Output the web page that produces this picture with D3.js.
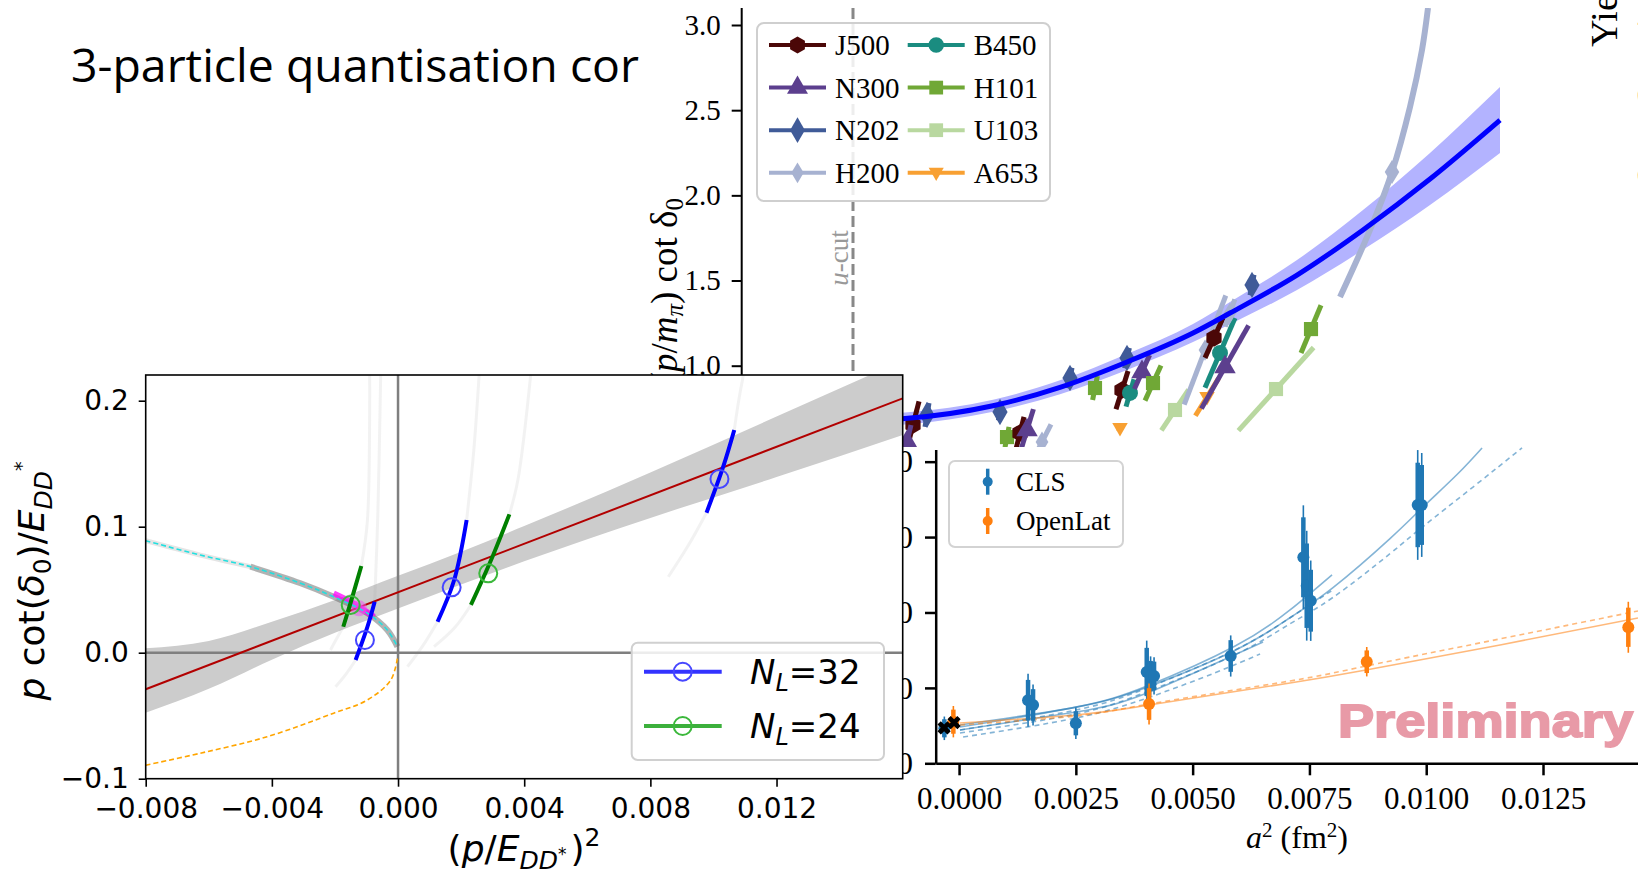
<!DOCTYPE html>
<html>
<head>
<meta charset="utf-8">
<script src="https://cdnjs.cloudflare.com/ajax/libs/d3/7.8.5/d3.min.js"></script>
<style>
	body { margin: 0; background: #fff; }
	svg { display: block; }
</style>
</head>
<body>
<div id="chart"></div>
<script>

// ------------------------------ data ------------------------------//

var titleText = "3-particle quantisation cor";

// top right : (p/m_pi) cot delta_0
var ensembles = ["J500", "N300", "N202", "H200", "B450", "H101", "U103", "A653"];
var ensColor = {
	J500: "#4b0707", B450: "#1a8c80", N300: "#5c3f8e", H101: "#70a836",
	N202: "#405b98", U103: "#b9d8a0", H200: "#a7b2d1", A653: "#f8a032"
};
var ensShape = {
	J500: "hex", B450: "circle", N300: "triUp", H101: "square",
	N202: "diamond", U103: "square", H200: "thinDiamond", A653: "triDown"
};
var yTicksA = [1.0, 1.5, 2.0, 2.5, 3.0];
var uCut = -0.25;

var fitX  = [-0.2, -0.12, 0.1, 0.2675, 0.435, 0.6, 0.6925, 0.86, 1.025, 1.1925, 1.3675];
var fitY  = [0.68, 0.69, 0.765, 0.873, 1.022, 1.192, 1.309, 1.532, 1.797, 2.096, 2.442];
var fitLo = [0.645, 0.655, 0.730, 0.832, 0.975, 1.139, 1.244, 1.444, 1.680, 1.943, 2.248];
var fitHi = [0.715, 0.725, 0.800, 0.914, 1.069, 1.245, 1.374, 1.620, 1.914, 2.249, 2.636];

var ptEns = ["J500","N202","N300","N202","H101","J500","N300","H200","N202","H101","A653","N202","J500",
	"B450","N300","H101","U103","H200","A653","J500","B450","N300","H200","N202","H101","U103"];
var ptX  = [-0.1, -0.065, -0.115, 0.1175, 0.135, 0.1675, 0.185, 0.2225, 0.2925, 0.355, 0.4175, 0.435, 0.4225,
	0.4425, 0.4725, 0.5, 0.555, 0.63, 0.635, 0.6525, 0.6675, 0.68, 0.6925, 0.7475, 0.895, 0.8075];
var ptY  = [0.652, 0.711, 0.552, 0.728, 0.581, 0.605, 0.622, 0.552, 0.928, 0.869, 0.634, 1.045, 0.857,
	0.840, 0.963, 0.898, 0.740, 1.092, 0.816, 1.163, 1.075, 0.992, 1.309, 1.474, 1.215, 0.863];
var ptEx = [0.015, 0.005, 0.01, 0.004, 0.005, 0.01, 0.016, 0.0225, 0.005, 0.006, 0.003, 0.006, 0.015,
	0.01, 0.019, 0.02, 0.034, 0.052, 0.029, 0.0225, 0.0375, 0.059, 0.012, 0.005, 0.025, 0.094];
var ptEy = [0.138, 0.07, 0.1, 0.05, 0.06, 0.094, 0.123, 0.103, 0.06, 0.07, 0.02, 0.06, 0.112,
	0.08, 0.1, 0.103, 0.12, 0.32, 0.11, 0.117, 0.205, 0.244, 0.08, 0.06, 0.14, 0.244];

// the steep H200 curve
var h200X = [0.9675, 1.0425, 1.0975, 1.1425, 1.1725, 1.1875];
var h200Y = [1.403, 1.797, 2.137, 2.519, 2.853, 3.1];
var h200Mark = 2;

// bottom right : continuum extrapolation in a^2
var xTicksB = [0, 0.0025, 0.005, 0.0075, 0.01, 0.0125];
var yTicksB = [1, 2, 3, 4, 5];
var clsX   = [-0.000315, 0.001477, 0.001584, 0.0025, 0.004017, 0.0041, 0.004174, 0.005815, 0.00737, 0.007442, 0.007528, 0.009818, 0.009904];
var clsY   = [1.464, 1.836, 1.773, 1.531, 2.211, 2.158, 2.158, 2.423, 3.732, 3.355, 3.156, 4.426, 4.426];
var clsErr = [0.12, 0.27, 0.21, 0.16, 0.32, 0.2, 0.19, 0.21, 0.53, 0.56, 0.41, 0.56, 0.53];
var olX   = [-0.000122, 0.004067, 0.008727, 0.014326];
var olY   = [1.552, 1.786, 2.347, 2.804];
var olErr = [0.16, 0.21, 0.15, 0.26];
var crossX = [-0.00032, -0.000107];
var crossY = [1.47, 1.54];

var clsFitA = { x: [0.00002, 0.002504, 0.004024, 0.00591, 0.007085, 0.008005, 0.009225, 0.009932, 0.01066, 0.011195],
	y: [1.508, 1.745, 2.010, 2.500, 2.930, 3.330, 3.980, 4.399, 4.830, 5.182], dash: false };
var clsFitB = { x: [0.00002, 0.002504, 0.004024, 0.00591, 0.007085, 0.008005, 0.009225, 0.009932, 0.011002, 0.012051],
	y: [1.402, 1.654, 1.950, 2.440, 2.850, 3.200, 3.780, 4.140, 4.664, 5.182], dash: true };
var clsFitC = { x: [0.00002, 0.002504, 0.004024, 0.00591, 0.007085, 0.007984],
	y: [1.481, 1.745, 2.025, 2.555, 3.033, 3.499], dash: false };
var clsFitD = { x: [0.00002, 0.002504, 0.004024, 0.00591, 0.007085, 0.008005],
	y: [1.442, 1.707, 1.999, 2.503, 2.930, 3.300], dash: true };
var clsFitE = { x: [0.00002, 0.002504, 0.004024, 0.006507],
	y: [1.442, 1.680, 1.932, 2.609], dash: false };
var clsFitF = { x: [0.000086, 0.002504, 0.004088, 0.005479, 0.006443],
	y: [1.349, 1.601, 1.879, 2.200, 2.450], dash: true };
var olFitA = { x: [0.00002, 0.002504, 0.004067, 0.007085, 0.008711, 0.011581, 0.014533],
	y: [1.534, 1.641, 1.773, 2.065, 2.237, 2.569, 2.927], dash: false };
var olFitB = { x: [0.00002, 0.002504, 0.004067, 0.007085, 0.008711, 0.011581, 0.014533],
	y: [1.508, 1.627, 1.786, 2.092, 2.290, 2.650, 3.020], dash: true };

// bottom left : p cot(delta_0)/E vs (p/E)^2
var xTicksC = [-0.008, -0.004, 0, 0.004, 0.008, 0.012];
var yTicksC = [-0.1, 0, 0.1, 0.2];
var bandX  = [-0.008, -0.006, -0.004, -0.002, 0, 0.002, 0.004, 0.008, 0.012, 0.016];
var bandLo = [-0.0476, -0.0287, -0.0055, 0.0158, 0.035, 0.0542, 0.0725, 0.107, 0.1394, 0.1728];
var bandHi = [0.0035, 0.0093, 0.0245, 0.0418, 0.061, 0.0802, 0.1005, 0.143, 0.1874, 0.232];
var redX = [-0.008, 0.016];
var redY = [-0.029, 0.2019];
var cyanX = [-0.008, -0.00627, -0.00468, -0.00309, -0.00204, -0.00097, -0.00034, -0.00002];
var cyanY = [0.0889, 0.0775, 0.0683, 0.0551, 0.0444, 0.0313, 0.018, 0.0048];
var orangeX = [-0.008, -0.00627, -0.00415, -0.00204, -0.00097, -0.00023, -0.00002];
var orangeY = [-0.0893, -0.0798, -0.0667, -0.048, -0.0375, -0.0217, -0.0045];
var magX = [-0.00204, -0.0015, -0.00076];
var magY = [0.0471, 0.0404, 0.0286];
var blobX = -0.00124, blobY = 0.0352;

var n32 = [
	{ x: [-0.001345, -0.00097, -0.00074], y: [-0.0058, 0.0206, 0.0405], cx: -0.00105, cy: 0.0101 },
	{ x: [0.001253, 0.00178, 0.002175], y: [0.0246, 0.0577, 0.1053], cx: 0.0017, cy: 0.0519 },
	{ x: [0.00978, 0.01031, 0.01066], y: [0.1111, 0.1476, 0.1767], cx: 0.01019, cy: 0.1379 }
];
var n24 = [
	{ x: [-0.001736, -0.0015, -0.001164], y: [0.0206, 0.040, 0.0688], cx: -0.0015, cy: 0.0379 },
	{ x: [0.00231, 0.00295, 0.00353], y: [0.0379, 0.0736, 0.1098], cx: 0.00286, cy: 0.063 }
];
// faint continuation of the quantisation curves
var ghosts = [
	{ x: [-0.00198, -0.00165, -0.001345], y: [-0.027, -0.017, -0.0058] },
	{ x: [-0.00074, -0.00064, -0.00055], y: [0.0405, 0.11, 0.22] },
	{ x: [-0.00214, -0.00195, -0.001736], y: [0.0021, 0.011, 0.0206] },
	{ x: [-0.001164, -0.00097, -0.0009], y: [0.0688, 0.105, 0.22] },
	{ x: [0.0003, 0.0008, 0.001253], y: [-0.0111, 0.006, 0.0246] },
	{ x: [0.002175, 0.0024, 0.00258], y: [0.1053, 0.16, 0.224] },
	{ x: [0.00114, 0.0018, 0.00231], y: [0.0048, 0.02, 0.0379] },
	{ x: [0.00353, 0.0038, 0.00422], y: [0.1098, 0.137, 0.224] },
	{ x: [0.00857, 0.0092, 0.00978], y: [0.0603, 0.085, 0.1111] },
	{ x: [0.01066, 0.0108, 0.01095], y: [0.1767, 0.2, 0.2204] }
];

// ------------------------------ drawing ------------------------------//

function init() {

	var w = 1638;
	var h = 872;
	var serif = "'Liberation Serif', 'DejaVu Serif', serif";
	var sans = "'DejaVu Sans', sans-serif";

	var svg = d3.select("#chart").append("svg")
		.attr("width", w)
		.attr("height", h);

	svg.append("rect").attr("width", w).attr("height", h).attr("fill", "#fff");

	// custom marker shapes
	var hexagon = { draw: function(ctx, size) {
		var r = Math.sqrt(size / 2.598);
		for (var i = 0; i < 6; i++) {
			var a = -Math.PI / 2 + i * Math.PI / 3;
			if (i == 0) ctx.moveTo(r * Math.cos(a), r * Math.sin(a));
			else ctx.lineTo(r * Math.cos(a), r * Math.sin(a));
		}
		ctx.closePath();
	}};
	var triDown = { draw: function(ctx, size) {
		var s = Math.sqrt(size * 1.2);
		ctx.moveTo(-s / 2, -s / 3); ctx.lineTo(s / 2, -s / 3); ctx.lineTo(0, s * 0.55); ctx.closePath();
	}};
	var thinDiamond = { draw: function(ctx, size) {
		var r = Math.sqrt(size) * 0.75;
		ctx.moveTo(0, -r); ctx.lineTo(r * 0.6, 0); ctx.lineTo(0, r); ctx.lineTo(-r * 0.6, 0); ctx.closePath();
	}};
	var shapes = {
		hex: hexagon, circle: d3.symbolCircle, triUp: d3.symbolTriangle, square: d3.symbolSquare,
		diamond: d3.symbolDiamond, thinDiamond: thinDiamond, triDown: triDown
	};

	//-------------------------------- title --------------------------------//
	svg.append("text")
		.attr("x", 71).attr("y", 82)
		.attr("font-family", "'Open Sans', sans-serif")
		.attr("font-size", 46)
		.attr("textLength", 568)
		.attr("lengthAdjust", "spacingAndGlyphs")
		.text(titleText);

	//-------------------------------- panel A (top right) --------------------------------//
	var xA = d3.scaleLinear().domain([-0.5, 1.5]).range([753, 1553]);
	var yA = d3.scaleLinear().domain([1, 3]).range([365.7, 25]);

	var gA = svg.append("g");
	svg.append("clipPath").attr("id", "clipA")
		.append("rect").attr("x", 742).attr("y", 8).attr("width", 900).attr("height", 870);

	var plotA = gA.append("g").attr("clip-path", "url(#clipA)");

	// u-cut
	plotA.append("line")
		.attr("x1", xA(uCut)).attr("x2", xA(uCut))
		.attr("y1", yA(3.1)).attr("y2", yA(0.3))
		.attr("stroke", "#888").attr("stroke-width", 3).attr("stroke-dasharray", "11,5");
	gA.append("text")
		.attr("transform", "translate(" + (xA(uCut) - 5) + ",258) rotate(-90)")
		.attr("text-anchor", "middle")
		.attr("font-family", serif).attr("font-size", 27).attr("fill", "#999")
		.html("<tspan font-style='italic'>u</tspan>-cut");

	var idx = d3.range(fitX.length);
	plotA.append("path")
		.datum(idx)
		.attr("fill", "#b3b3ff")
		.attr("d", d3.area()
			.x(function(i) { return xA(fitX[i]); })
			.y0(function(i) { return yA(fitLo[i]); })
			.y1(function(i) { return yA(fitHi[i]); })
			.curve(d3.curveMonotoneX));

	// H200 steep curve
	plotA.append("path")
		.datum(d3.range(h200X.length))
		.attr("fill", "none")
		.attr("stroke", ensColor.H200).attr("stroke-width", 6)
		.attr("d", d3.line()
			.x(function(i) { return xA(h200X[i]); })
			.y(function(i) { return yA(h200Y[i]); })
			.curve(d3.curveCatmullRom));
	plotA.append("path")
		.attr("transform", "translate(" + xA(h200X[h200Mark]) + "," + yA(h200Y[h200Mark]) + ")")
		.attr("fill", ensColor.H200)
		.attr("d", d3.symbol().type(thinDiamond).size(260)());

	// error bars + markers
	var pts = plotA.selectAll("g.pt")
		.data(d3.range(ptX.length))
		.enter().append("g").attr("class", "pt");
	pts.append("line")
		.attr("x1", function(i) { return xA(ptX[i] - ptEx[i]); })
		.attr("y1", function(i) { return yA(ptY[i] - ptEy[i]); })
		.attr("x2", function(i) { return xA(ptX[i] + ptEx[i]); })
		.attr("y2", function(i) { return yA(ptY[i] + ptEy[i]); })
		.attr("stroke", function(i) { return ensColor[ptEns[i]]; })
		.attr("stroke-width", 5);
	pts.append("path")
		.attr("transform", function(i) { return "translate(" + xA(ptX[i]) + "," + yA(ptY[i]) + ")"; })
		.attr("fill", function(i) { return ensColor[ptEns[i]]; })
		.attr("d", function(i) { return d3.symbol().type(shapes[ensShape[ptEns[i]]]).size(200)(); });

	plotA.append("path")
		.datum(idx)
		.attr("fill", "none")
		.attr("stroke", "#0000ff").attr("stroke-width", 5)
		.attr("d", d3.line()
			.x(function(i) { return xA(fitX[i]); })
			.y(function(i) { return yA(fitY[i]); })
			.curve(d3.curveMonotoneX));

	// y axis
	gA.append("line")
		.attr("x1", 741.7).attr("x2", 741.7)
		.attr("y1", yA(3.1)).attr("y2", yA(0.3))
		.attr("stroke", "#000").attr("stroke-width", 2);
	var axA = gA.append("g")
		.attr("transform", "translate(741.7,0)")
		.call(d3.axisLeft(yA).tickValues(yTicksA).tickFormat(d3.format(".1f")).tickSize(10).tickPadding(11));
	axA.select(".domain").remove();
	axA.selectAll("line").attr("stroke-width", 2);
	axA.selectAll("text").attr("font-family", serif).attr("font-size", 29);

	gA.append("text")
		.attr("transform", "translate(677,198) rotate(-90)")
		.attr("text-anchor", "end")
		.attr("font-family", serif).attr("font-size", 37)
		.html("(<tspan font-style='italic'>p</tspan>/<tspan font-style='italic'>m</tspan><tspan font-style='italic' font-size='25' dy='6'>π</tspan><tspan dy='-6'>)</tspan> cot δ<tspan font-size='25' dy='6'>0</tspan>");

	// legend A
	var legA = gA.append("g");
	legA.append("rect")
		.attr("x", 757).attr("y", 23).attr("width", 293).attr("height", 178).attr("rx", 7)
		.attr("fill", "#fff").attr("fill-opacity", 0.85)
		.attr("stroke", "#cfcfcf").attr("stroke-width", 2);
	var legItems = legA.selectAll("g.item")
		.data(ensembles)
		.enter().append("g").attr("class", "item")
		.attr("transform", function(d, i) {
			return "translate(" + (i < 4 ? 769 : 907.7) + "," + (45 + (i % 4) * 42.6) + ")";
		});
	legItems.append("line")
		.attr("x1", 0).attr("x2", 57)
		.attr("stroke", function(d) { return ensColor[d]; })
		.attr("stroke-width", 4);
	legItems.append("path")
		.attr("transform", "translate(28.5,0)")
		.attr("fill", function(d) { return ensColor[d]; })
		.attr("d", function(d) { return d3.symbol().type(shapes[ensShape[d]]).size(190)(); });
	legItems.append("text")
		.attr("x", 66).attr("y", 10)
		.attr("font-family", serif).attr("font-size", 29)
		.text(function(d) { return d; });

	//-------------------------------- panel B (bottom right) --------------------------------//
	var xB = d3.scaleLinear().domain([-0.0005, 0.015]).range([935.7, 1659.8]);
	var yB = d3.scaleLinear().domain([1, 5.16]).range([763.3, 449.6]);

	var gB = svg.append("g");
	gB.append("rect").attr("x", 903).attr("y", 447).attr("width", 740).attr("height", 430).attr("fill", "#fff");

	svg.append("clipPath").attr("id", "clipB")
		.append("rect").attr("x", 936).attr("y", 447).attr("width", 710).attr("height", 317);
	var plotB = gB.append("g").attr("clip-path", "url(#clipB)");

	var fitLine = d3.line()
		.x(function(d) { return xB(d[0]); })
		.y(function(d) { return yB(d[1]); })
		.curve(d3.curveNatural);
	function drawFit(f, col) {
		plotB.append("path")
			.datum(d3.zip(f.x, f.y))
			.attr("fill", "none")
			.attr("stroke", col).attr("stroke-opacity", 0.55).attr("stroke-width", 1.6)
			.attr("stroke-dasharray", f.dash ? "5,4" : null)
			.attr("d", fitLine);
	}
	[clsFitA, clsFitB, clsFitC, clsFitD, clsFitE, clsFitF].forEach(function(f) { drawFit(f, "#1f77b4"); });
	[olFitA, olFitB].forEach(function(f) { drawFit(f, "#ff7f0e"); });

	function drawErr(xs, ys, es, col) {
		var g = plotB.selectAll(null).data(d3.range(xs.length)).enter().append("g");
		g.append("line")
			.attr("x1", function(i) { return xB(xs[i]); }).attr("x2", function(i) { return xB(xs[i]); })
			.attr("y1", function(i) { return yB(ys[i] - es[i] * 1.3); })
			.attr("y2", function(i) { return yB(ys[i] + es[i] * 1.3); })
			.attr("stroke", col).attr("stroke-width", 1.6);
		g.append("line")
			.attr("x1", function(i) { return xB(xs[i]); }).attr("x2", function(i) { return xB(xs[i]); })
			.attr("y1", function(i) { return yB(ys[i] - es[i]); })
			.attr("y2", function(i) { return yB(ys[i] + es[i]); })
			.attr("stroke", col).attr("stroke-width", 4.5);
		g.append("circle")
			.attr("cx", function(i) { return xB(xs[i]); })
			.attr("cy", function(i) { return yB(ys[i]); })
			.attr("r", 6).attr("fill", col);
	}
	drawErr(clsX, clsY, clsErr, "#1f77b4");
	drawErr(olX, olY, olErr, "#ff7f0e");

	plotB.selectAll("path.cross")
		.data(d3.range(crossX.length))
		.enter().append("path").attr("class", "cross")
		.attr("transform", function(i) { return "translate(" + xB(crossX[i]) + "," + yB(crossY[i]) + ") rotate(45)"; })
		.attr("d", d3.symbol().type(d3.symbolCross).size(110)())
		.attr("fill", "#000");

	var axBx = gB.append("g")
		.attr("transform", "translate(0,763.3)")
		.call(d3.axisBottom(xB).tickValues(xTicksB).tickFormat(d3.format(".4f")).tickSize(12).tickPadding(12).tickSizeOuter(0));
	axBx.select(".domain").attr("stroke-width", 2.5);
	axBx.selectAll("line").attr("stroke-width", 2.5);
	axBx.selectAll("text").attr("font-family", serif).attr("font-size", 31);

	var axBy = gB.append("g")
		.attr("transform", "translate(935.7,0)")
		.call(d3.axisLeft(yB).tickValues(yTicksB).tickFormat(d3.format(".1f")).tickSize(10.7).tickPadding(12).tickSizeOuter(0));
	axBy.select(".domain").attr("stroke-width", 2.5);
	axBy.selectAll("line").attr("stroke-width", 2.5);
	axBy.selectAll("text").attr("font-family", serif).attr("font-size", 32);

	gB.append("text")
		.attr("x", 1297).attr("y", 848)
		.attr("text-anchor", "middle")
		.attr("font-family", serif).attr("font-size", 32)
		.html("<tspan font-style='italic'>a</tspan><tspan font-size='21' dy='-11'>2</tspan><tspan dy='11'> (fm</tspan><tspan font-size='21' dy='-11'>2</tspan><tspan dy='11'>)</tspan>");

	// legend B
	var legB = gB.append("g");
	legB.append("rect")
		.attr("x", 949).attr("y", 461).attr("width", 174).attr("height", 86).attr("rx", 6)
		.attr("fill", "#fff").attr("stroke", "#d3d3d3").attr("stroke-width", 2);
	[["CLS", "#1f77b4", 481.7], ["OpenLat", "#ff7f0e", 521]].forEach(function(e) {
		legB.append("line").attr("x1", 987.7).attr("x2", 987.7).attr("y1", e[2] - 13).attr("y2", e[2] + 13)
			.attr("stroke", e[1]).attr("stroke-width", 3.5);
		legB.append("circle").attr("cx", 987.7).attr("cy", e[2]).attr("r", 5).attr("fill", e[1]);
		legB.append("text").attr("x", 1016).attr("y", e[2] + 9)
			.attr("font-family", serif).attr("font-size", 27).text(e[0]);
	});

	gB.append("text")
		.attr("x", 1338).attr("y", 737)
		.attr("font-family", "'Liberation Sans', Arial, sans-serif").attr("font-weight", 900)
		.attr("font-size", 46)
		.attr("textLength", 295).attr("lengthAdjust", "spacingAndGlyphs")
		.attr("fill", "#e89aa7").attr("stroke", "#e89aa7").attr("stroke-width", 1.8)
		.text("Preliminary");

	// fourth panel peeking in at the right edge
	svg.append("text")
		.attr("transform", "translate(1617,47) rotate(-90)")
		.attr("font-family", serif).attr("font-size", 38)
		.text("Yield");
	[[37, "4"], [103, "3"], [183, "2"]].forEach(function(t) {
		svg.append("text")
			.attr("transform", "translate(1662," + t[0] + ") rotate(-90)")
			.attr("font-family", serif).attr("font-size", 36)
			.text(t[1]);
	});

	//-------------------------------- panel C (bottom left) --------------------------------//
	var xC = d3.scaleLinear().domain([-0.008, 0.016]).range([145.7, 902.7]);
	var yC = d3.scaleLinear().domain([-0.1, 0.2204]).range([778.7, 375]);

	var gC = svg.append("g");
	gC.append("rect").attr("x", 0).attr("y", 375).attr("width", 903).attr("height", 500).attr("fill", "#fff");

	svg.append("clipPath").attr("id", "clipC")
		.append("rect").attr("x", 145.7).attr("y", 375).attr("width", 757).attr("height", 403.7);
	var plotC = gC.append("g").attr("clip-path", "url(#clipC)");

	var lineC = d3.line()
		.x(function(d) { return xC(d[0]); })
		.y(function(d) { return yC(d[1]); })
		.curve(d3.curveCatmullRom);

	plotC.append("path")
		.datum(d3.range(bandX.length))
		.attr("fill", "#cccccc")
		.attr("d", d3.area()
			.x(function(i) { return xC(bandX[i]); })
			.y0(function(i) { return yC(bandLo[i]); })
			.y1(function(i) { return yC(bandHi[i]); })
			.curve(d3.curveMonotoneX));

	ghosts.forEach(function(gh) {
		plotC.append("path").datum(d3.zip(gh.x, gh.y))
			.attr("fill", "none").attr("stroke", "#999").attr("stroke-opacity", 0.13).attr("stroke-width", 3)
			.attr("d", lineC);
	});

	plotC.append("line")
		.attr("x1", xC(0)).attr("x2", xC(0)).attr("y1", 375).attr("y2", 778.7)
		.attr("stroke", "#7f7f7f").attr("stroke-width", 2.5);
	plotC.append("line")
		.attr("x1", 145.7).attr("x2", 902.7).attr("y1", yC(0)).attr("y2", yC(0))
		.attr("stroke", "#7f7f7f").attr("stroke-width", 2.5);

	// shadow along the bound-state curve
	plotC.append("path").datum(d3.zip(cyanX.slice(2), cyanY.slice(2)))
		.attr("fill", "none").attr("stroke", "#666").attr("stroke-opacity", 0.5).attr("stroke-width", 6)
		.attr("d", lineC);
	plotC.append("path").datum(d3.zip(cyanX.slice(0, 3), cyanY.slice(0, 3)))
		.attr("fill", "none").attr("stroke", "#999").attr("stroke-opacity", 0.25).attr("stroke-width", 5)
		.attr("d", lineC);

	plotC.append("path").datum(d3.zip(redX, redY))
		.attr("fill", "none").attr("stroke", "#b20000").attr("stroke-width", 2)
		.attr("d", d3.line().x(function(d) { return xC(d[0]); }).y(function(d) { return yC(d[1]); }));

	plotC.append("path").datum(d3.zip(magX, magY))
		.attr("fill", "none").attr("stroke", "#ff00ff").attr("stroke-opacity", 0.75).attr("stroke-width", 6)
		.attr("d", lineC);
	plotC.append("circle")
		.attr("cx", xC(blobX)).attr("cy", yC(blobY)).attr("r", 8)
		.attr("fill", "#ee55ee").attr("fill-opacity", 0.55);

	plotC.append("path").datum(d3.zip(cyanX, cyanY))
		.attr("fill", "none").attr("stroke", "#22e0e0").attr("stroke-width", 1.6).attr("stroke-dasharray", "5,3")
		.attr("d", lineC);
	plotC.append("path").datum(d3.zip(orangeX, orangeY))
		.attr("fill", "none").attr("stroke", "#ffa500").attr("stroke-width", 1.6).attr("stroke-dasharray", "5,3")
		.attr("d", lineC);

	function drawLevels(list, col, mcol) {
		list.forEach(function(s) {
			plotC.append("path").datum(d3.zip(s.x, s.y))
				.attr("fill", "none").attr("stroke", col).attr("stroke-width", 4)
				.attr("d", lineC);
			plotC.append("circle")
				.attr("cx", xC(s.cx)).attr("cy", yC(s.cy)).attr("r", 9)
				.attr("fill", "none").attr("stroke", mcol).attr("stroke-width", 2);
		});
	}
	drawLevels(n24, "#008000", "#3cb83c");
	drawLevels(n32, "#0000ff", "#4646ff");

	gC.append("rect")
		.attr("x", 145.7).attr("y", 375).attr("width", 757).attr("height", 403.7)
		.attr("fill", "none").attr("stroke", "#000").attr("stroke-width", 1.6);

	var axCx = gC.append("g")
		.attr("transform", "translate(0,778.7)")
		.call(d3.axisBottom(xC).tickValues(xTicksC).tickFormat(d3.format(".3f")).tickSize(8).tickPadding(11));
	axCx.select(".domain").remove();
	axCx.selectAll("line").attr("stroke-width", 1.6);
	axCx.selectAll("text").attr("font-family", sans).attr("font-size", 28);

	var axCy = gC.append("g")
		.attr("transform", "translate(145.7,0)")
		.call(d3.axisLeft(yC).tickValues(yTicksC).tickFormat(d3.format(".1f")).tickSize(7).tickPadding(10));
	axCy.select(".domain").remove();
	axCy.selectAll("line").attr("stroke-width", 1.6);
	axCy.selectAll("text").attr("font-family", sans).attr("font-size", 28);

	gC.append("text")
		.attr("transform", "translate(44,581) rotate(-90)")
		.attr("text-anchor", "middle")
		.attr("font-family", sans).attr("font-size", 36)
		.html("<tspan font-style='italic'>p</tspan> cot(<tspan font-style='italic'>δ</tspan><tspan font-size='25' dy='7'>0</tspan><tspan dy='-7'>)/</tspan><tspan font-style='italic'>E</tspan><tspan font-style='italic' font-size='25' dy='8'>DD</tspan><tspan font-size='19' dy='-24'>*</tspan>");

	gC.append("text")
		.attr("x", 524).attr("y", 861)
		.attr("text-anchor", "middle")
		.attr("font-family", sans).attr("font-size", 36)
		.html("(<tspan font-style='italic'>p</tspan>/<tspan font-style='italic'>E</tspan><tspan font-style='italic' font-size='25' dy='8'>DD</tspan><tspan font-size='17' dy='-9'>*</tspan><tspan dx='4' dy='1'>)</tspan><tspan font-size='25' dy='-15'>2</tspan>");

	// legend C
	var legC = gC.append("g");
	legC.append("rect")
		.attr("x", 631.7).attr("y", 642.7).attr("width", 252.3).attr("height", 117.3).attr("rx", 6)
		.attr("fill", "#fff").attr("fill-opacity", 0.85)
		.attr("stroke", "#d0d0d0").attr("stroke-width", 2);
	[["32", "#3333ff", "#4646ff", 671.7], ["24", "#3cb03c", "#3cb83c", 726]].forEach(function(e) {
		legC.append("line").attr("x1", 644).attr("x2", 721.7).attr("y1", e[3]).attr("y2", e[3])
			.attr("stroke", e[1]).attr("stroke-width", 4);
		legC.append("circle").attr("cx", 682.7).attr("cy", e[3]).attr("r", 9)
			.attr("fill", "none").attr("stroke", e[2]).attr("stroke-width", 2);
		legC.append("text").attr("x", 750).attr("y", e[3] + 12)
			.attr("font-family", sans).attr("font-size", 34)
			.html("<tspan font-style='italic'>N</tspan><tspan font-style='italic' font-size='24' dy='7'>L</tspan><tspan dy='-7'>=" + e[0] + "</tspan>");
	});
}

window.onload = init;
</script>
</body>
</html>
